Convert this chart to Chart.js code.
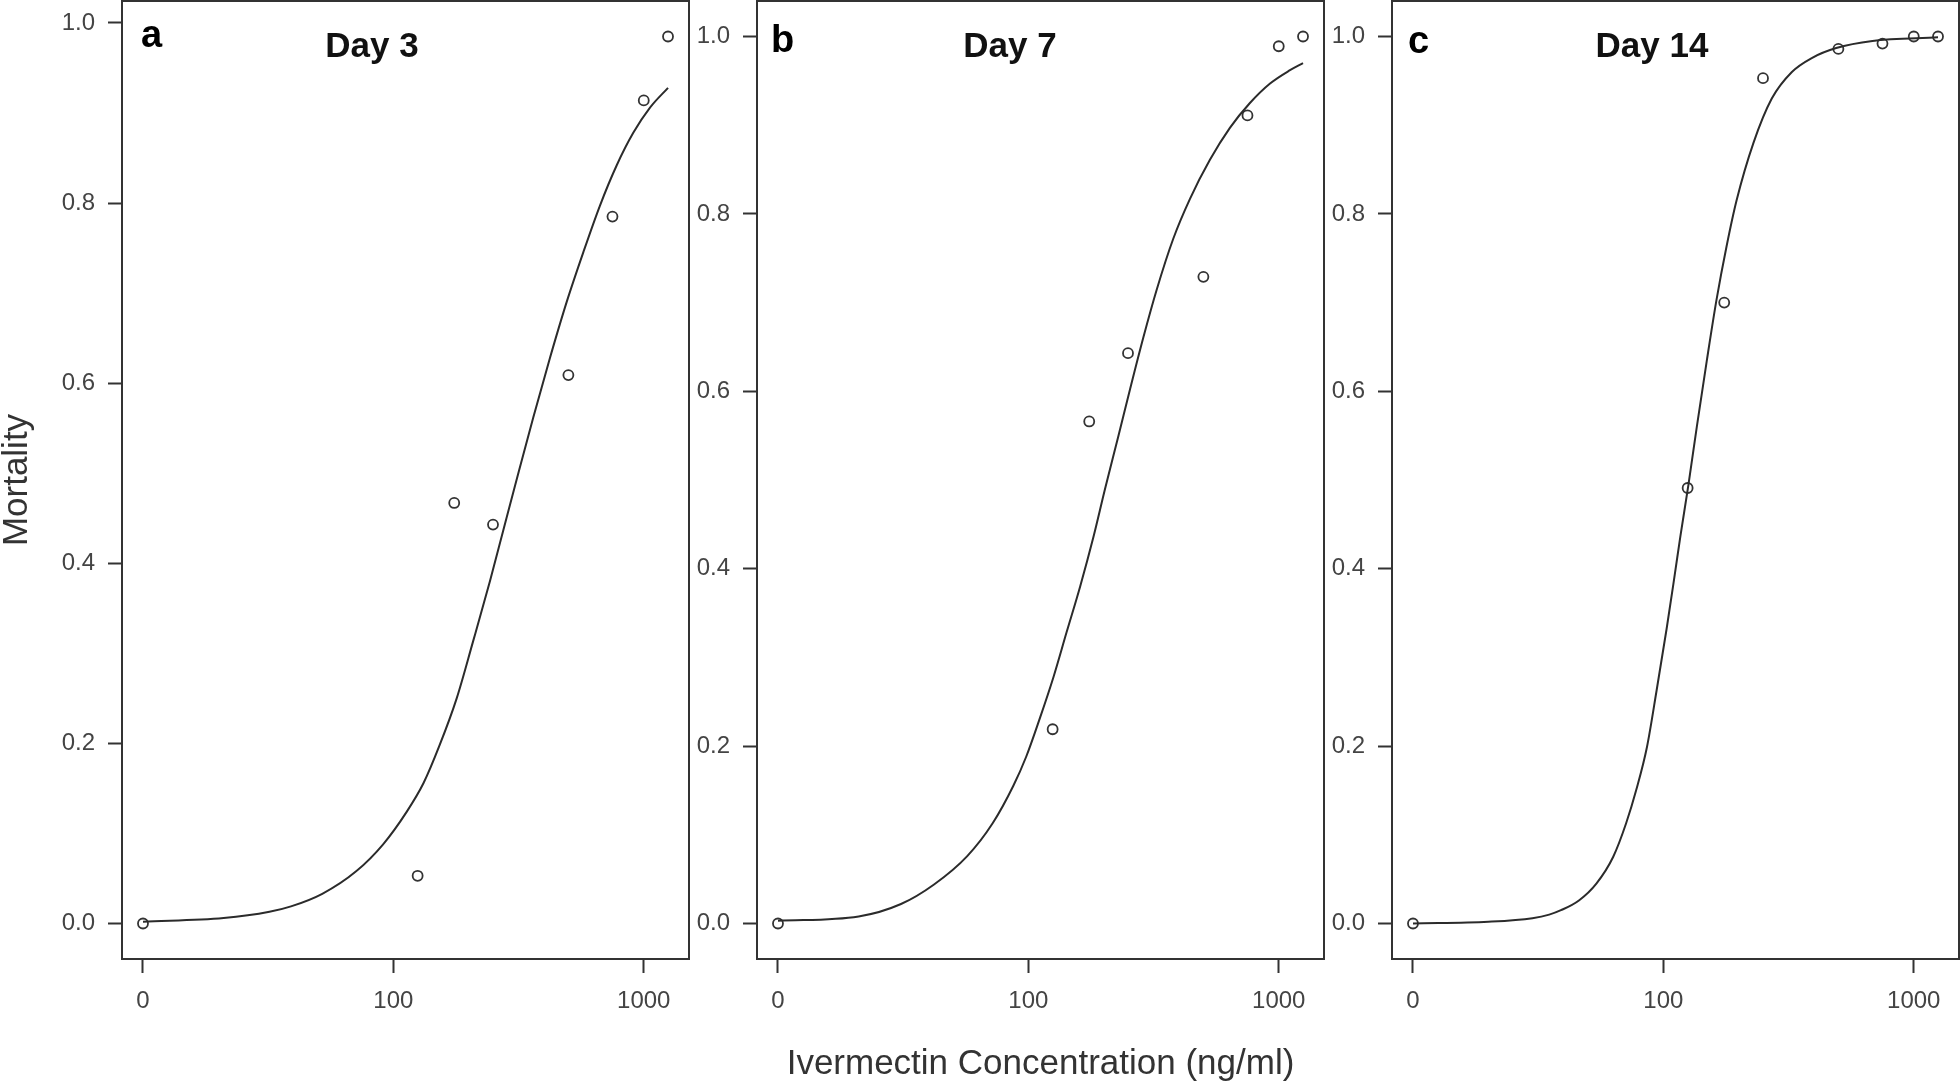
<!DOCTYPE html>
<html>
<head>
<meta charset="utf-8">
<script src="https://cdn.jsdelivr.net/npm/chart.js@4.4.0/dist/chart.umd.min.js"></script>
<style>
  html, body { margin: 0; padding: 0; background: #fff; }
  body { width: 1960px; height: 1082px; position: relative; overflow: hidden; }
  canvas { position: absolute; top: 0; }
</style>
</head>
<body>
<canvas id="panelA" width="692" height="1082" style="left:0px"></canvas>
<canvas id="panelB" width="634" height="1082" style="left:692px"></canvas>
<canvas id="panelC" width="634" height="1082" style="left:1326px"></canvas>
<script>
// ivermectin doses (ng/ml). the 0 control sits one decade below 100, like drc draws it
let doses = [0, 125, 175, 250, 500, 750, 1000, 1250]
let controlPos = 10

// observed mortality
let mortalityDay3 = [0, 0.053, 0.467, 0.443, 0.609, 0.785, 0.914, 0.985]
let mortalityDay7 = [0, 0.219, 0.566, 0.643, 0.729, 0.911, 0.989, 1.0]
let mortalityDay14 = [0, 0.491, 0.700, 0.953, 0.986, 0.992, 1.0, 1.0]

// fitted dose-response curves
let fitDoseDay3 = [10, 21, 32, 39, 52, 71, 91, 113, 132, 153, 179, 208, 243, 275, 310, 362, 422, 492, 573, 668, 780, 908, 1059, 1250]
let fitDay3 = [0.002, 0.006, 0.013, 0.019, 0.033, 0.058, 0.088, 0.124, 0.156, 0.198, 0.250, 0.313, 0.380, 0.437, 0.492, 0.562, 0.628, 0.690, 0.745, 0.797, 0.842, 0.878, 0.906, 0.928]

let fitDoseDay7 = [10, 21, 31, 42, 57, 72, 87, 98, 111, 126, 142, 161, 182, 202, 229, 255, 288, 325, 379, 442, 531, 638, 767, 923, 1109, 1250]
let fitDay7 = [0.003, 0.008, 0.022, 0.044, 0.076, 0.113, 0.155, 0.188, 0.231, 0.278, 0.328, 0.380, 0.436, 0.489, 0.550, 0.603, 0.661, 0.714, 0.772, 0.817, 0.861, 0.897, 0.925, 0.947, 0.962, 0.970]

let fitDoseDay14 = [10, 20, 30, 35, 39, 46, 54, 63, 71, 78, 86, 94, 103, 111, 117, 126, 136, 149, 163, 179, 196, 229, 271, 326, 393, 490, 684, 1250]
let fitDay14 = [0.000, 0.002, 0.006, 0.010, 0.015, 0.026, 0.045, 0.075, 0.113, 0.151, 0.199, 0.263, 0.332, 0.393, 0.437, 0.495, 0.560, 0.634, 0.703, 0.764, 0.815, 0.880, 0.930, 0.960, 0.976, 0.987, 0.995, 0.999]

// axis ticks
let xTickValues = [10, 100, 1000]
let xTickLabels = ["0", "100", "1000"]
let yTickValues = [0, 0.2, 0.4, 0.6, 0.8, 1.0]

let panelLetters = ["a", "b", "c"]
let panelTitles = ["Day 3", "Day 7", "Day 14"]

// R style axis limits (data range + 4%)
let xMin = 8.245
let xMax = 1516

const fontFamily = "'Liberation Sans', Arial, Helvetica, sans-serif"
Chart.defaults.font.family = fontFamily

// box around plot + panel letter + day title
const panelDecor = {
  id: "panelDecor",
  afterDatasetsDraw(chart, args, opts) {
    const ctx = chart.ctx
    const a = chart.chartArea
    ctx.save()
    ctx.strokeStyle = "#333"
    ctx.lineWidth = 2
    ctx.strokeRect(a.left, a.top, a.right - a.left, a.bottom - a.top)

    ctx.fillStyle = "#000"
    ctx.textBaseline = "alphabetic"
    ctx.textAlign = "left"
    ctx.font = "bold 38px " + fontFamily
    ctx.fillText(opts.letter, a.left + opts.letterX, opts.letterY)

    ctx.fillStyle = "#111"
    ctx.textAlign = "center"
    ctx.font = "bold 35px " + fontFamily
    ctx.fillText(opts.title, a.left + opts.titleX, 57)
    ctx.restore()
  }
}

let panels = [
  { id: "panelA", mort: mortalityDay3, fitX: fitDoseDay3, fitY: fitDay3, yMin: -0.0394, yMax: 1.0244,
    yAxisWidth: 122, padRight: 3, letterX: 19, letterY: 47, titleX: 250, yTitle: true, xTitle: false },
  { id: "panelB", mort: mortalityDay7, fitX: fitDoseDay7, fitY: fitDay7, yMin: -0.04, yMax: 1.04,
    yAxisWidth: 65, padRight: 2, letterX: 14, letterY: 52, titleX: 253, yTitle: false, xTitle: true },
  { id: "panelC", mort: mortalityDay14, fitX: fitDoseDay14, fitY: fitDay14, yMin: -0.04, yMax: 1.04,
    yAxisWidth: 66, padRight: 1, letterX: 16, letterY: 53, titleX: 260, yTitle: false, xTitle: false }
]

panels.forEach((p, k) => {
  let observed = doses.map((d, i) => ({ x: d === 0 ? controlPos : d, y: p.mort[i] }))
  let fitted = p.fitX.map((d, i) => ({ x: d, y: p.fitY[i] }))

  new Chart(document.getElementById(p.id), {
    type: "scatter",
    data: {
      datasets: [
        {
          data: fitted,
          showLine: true,
          pointRadius: 0,
          borderColor: "#2b2b2b",
          borderWidth: 2,
          cubicInterpolationMode: "monotone",
          fill: false
        },
        {
          data: observed,
          showLine: false,
          pointRadius: 5,
          pointBorderWidth: 1.8,
          pointBorderColor: "#333",
          pointBackgroundColor: "rgba(0,0,0,0)"
        }
      ]
    },
    options: {
      responsive: false,
      animation: false,
      events: [],
      layout: { autoPadding: false, padding: { top: 1, left: 0, right: p.padRight, bottom: 0 } },
      plugins: {
        legend: { display: false },
        tooltip: { enabled: false },
        panelDecor: { letter: panelLetters[k], title: panelTitles[k], letterX: p.letterX, letterY: p.letterY, titleX: p.titleX }
      },
      scales: {
        x: {
          type: "logarithmic",
          min: xMin,
          max: xMax,
          bounds: "data",
          afterBuildTicks: ax => { ax.ticks = xTickValues.map(v => ({ value: v })) },
          afterFit: ax => { ax.height = 123; ax.paddingLeft = 0; ax.paddingRight = 0 },
          grid: { display: true, drawOnChartArea: false, drawTicks: true, tickLength: 14, tickWidth: 2, tickColor: "#333", offset: false },
          border: { display: false },
          ticks: {
            autoSkip: false, maxRotation: 0, padding: 14, color: "#444",
            font: { size: 24 },
            callback: (v, i) => xTickLabels[i]
          },
          title: {
            display: p.xTitle,
            text: "Ivermectin Concentration (ng/ml)",
            color: "#333",
            font: { size: 35, lineHeight: 1 },
            padding: { top: 0, bottom: 0 }
          }
        },
        y: {
          type: "linear",
          min: p.yMin,
          max: p.yMax,
          afterBuildTicks: ax => { ax.ticks = yTickValues.map(v => ({ value: v })) },
          afterFit: ax => { ax.width = p.yAxisWidth; ax.paddingTop = 0; ax.paddingBottom = 0 },
          grid: { display: true, drawOnChartArea: false, drawTicks: true, tickLength: 14, tickWidth: 2, tickColor: "#333", offset: false },
          border: { display: false },
          ticks: {
            padding: 13, color: "#444",
            font: { size: 24 },
            callback: v => Number(v).toFixed(1)
          },
          title: {
            display: p.yTitle,
            text: "Mortality",
            color: "#333",
            font: { size: 35, lineHeight: 1 },
            padding: { top: 0, bottom: 0 }
          }
        }
      }
    },
    plugins: [panelDecor]
  })
})
</script>
</body>
</html>
